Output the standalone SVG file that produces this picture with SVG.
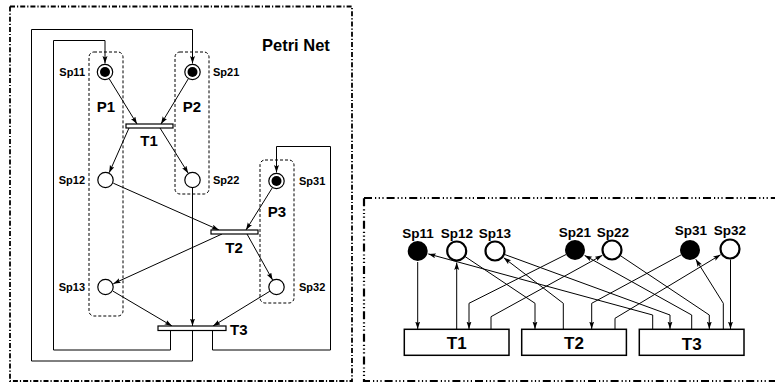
<svg xmlns="http://www.w3.org/2000/svg" width="775" height="383" viewBox="0 0 775 383">
<defs>
<marker id="ah" markerUnits="userSpaceOnUse" markerWidth="8" markerHeight="6" refX="7.5" refY="2.5" orient="auto">
<path d="M0,0 L7.5,2.5 L0,5 L1.5,2.5 z" fill="#000"/>
</marker>
<style>
.t{font-family:"Liberation Sans",Arial,sans-serif;font-weight:bold;fill:#000}
.lbl{font-size:11px}
.big{font-size:15px}
.rl{font-size:13.5px;text-anchor:middle}
.tl{font-size:17px;text-anchor:middle}
.arc{fill:none;stroke:#000;stroke-width:1;marker-end:url(#ah)}
.pl{fill:#fff;stroke:#000;stroke-width:1.2}
.grp{fill:none;stroke:#000;stroke-width:1;stroke-dasharray:3 2}
.bar{fill:#fff;stroke:#000;stroke-width:1.2}
.frame1{fill:none;stroke:#000;stroke-width:1.8;stroke-dasharray:5 2 1.2 2}
.frame2{fill:none;stroke:#000;stroke-width:2.2;stroke-dasharray:8 3 1.2 2.5 1.2 2.5 1.2 3}
.box{fill:#fff;stroke:#000;stroke-width:1.5}
.rp{fill:#fff;stroke:#000;stroke-width:2.2}
</style>
</defs>

<!-- frames -->
<rect class="frame1" x="10" y="6.5" width="342" height="374.5"/>
<rect class="frame2" x="364" y="198" width="420" height="183"/>

<text class="t big" x="262" y="51" style="font-size:16.5px">Petri Net</text>

<!-- place groups -->
<g id="P1"><rect class="grp" x="89" y="52" width="34" height="264" rx="5"/><text class="t big" x="106" y="112" text-anchor="middle">P1</text></g>
<g id="P2"><rect class="grp" x="175" y="52" width="34" height="142" rx="5"/><text class="t big" x="192" y="112" text-anchor="middle">P2</text></g>
<g id="P3"><rect class="grp" x="260" y="160" width="34" height="143" rx="5"/><text class="t big" x="277" y="217" text-anchor="middle">P3</text></g>

<!-- connectors left -->
<g id="connectors-left">
<path class="arc" d="M109.2,78.8 L137,124"/>
<path class="arc" d="M188.3,78.8 L161,124"/>
<path class="arc" d="M129,128 L109.2,172.7"/>
<path class="arc" d="M160,128 L188.2,173.2"/>
<path class="arc" d="M113.3,183.2 L219,230"/>
<path class="arc" d="M272.3,187.8 L246,230"/>
<path class="arc" d="M222,234 L113.3,283.7"/>
<path class="arc" d="M247,234 L272.6,280"/>
<path class="arc" d="M112.9,291.1 L172,326"/>
<path class="arc" d="M192.5,188 L192.5,326"/>
<path class="arc" d="M269.9,291.2 L213,326"/>
<path class="arc" d="M170.5,330.5 V350 H53.5 V40.5 H105 V63.5"/>
<path class="arc" d="M192.5,330.5 V361 H31.5 V29.5 H192.5 V63.5"/>
<path class="arc" d="M212.5,330.5 V350 H330.5 V146.5 H276.5 V172.5"/>
</g>

<!-- places left -->
<g id="Sp11"><circle class="pl" cx="105" cy="72" r="7.7"/><circle cx="105" cy="72" r="5" fill="#000"/><text class="t lbl" x="85" y="76" text-anchor="end">Sp11</text></g>
<g id="Sp21"><circle class="pl" cx="192.5" cy="72" r="7.7"/><circle cx="192.5" cy="72" r="5" fill="#000"/><text class="t lbl" x="213" y="76">Sp21</text></g>
<g id="Sp12"><circle class="pl" cx="105.5" cy="180" r="7.7"/><text class="t lbl" x="85" y="184" text-anchor="end">Sp12</text></g>
<g id="Sp22"><circle class="pl" cx="192.5" cy="180" r="7.7"/><text class="t lbl" x="213" y="184">Sp22</text></g>
<g id="Sp31"><circle class="pl" cx="276.5" cy="181" r="7.7"/><circle cx="276.5" cy="181" r="5" fill="#000"/><text class="t lbl" x="299" y="185">Sp31</text></g>
<g id="Sp13"><circle class="pl" cx="105.5" cy="287" r="7.7"/><text class="t lbl" x="85" y="291" text-anchor="end">Sp13</text></g>
<g id="Sp32"><circle class="pl" cx="276.5" cy="287" r="7.7"/><text class="t lbl" x="299" y="291">Sp32</text></g>

<!-- transitions left -->
<g id="T1"><rect class="bar" x="126" y="124" width="47" height="4"/><text class="t big" x="149" y="146" text-anchor="middle">T1</text></g>
<g id="T2"><rect class="bar" x="211" y="230" width="47" height="4"/><text class="t big" x="234" y="253" text-anchor="middle">T2</text></g>
<g id="T3"><rect class="bar" x="158" y="326" width="68" height="4.5"/><text class="t big" x="230" y="335">T3</text></g>

<!-- right panel connectors -->
<g id="connectors-right">
<path class="arc" d="M417.7,262 V329"/>
<path class="arc" d="M456.7,329 V262.5"/>
<path class="arc" d="M566.1,254.5 L469,303.3 V329"/>
<path class="arc" d="M491,329 V316.7 L602.4,255.3"/>
<path class="arc" d="M465,256.5 L535,303.3 V329"/>
<path class="arc" d="M563.3,329 V303.3 L503.7,257.7"/>
<path class="arc" d="M681.2,254.8 L591.7,303.3 V329"/>
<path class="arc" d="M615,329 V318.3 L720.6,254.7"/>
<path class="arc" d="M652.7,329 V315 L428.3,253.9"/>
<path class="arc" d="M504.4,254.4 L670,315 V329"/>
<path class="arc" d="M691.7,329 V315 L584.6,255.4"/>
<path class="arc" d="M620.3,255.6 L709.3,315 V329"/>
<path class="arc" d="M723.3,329 V303.3 L695.8,259.3"/>
<path class="arc" d="M730.5,259.5 V329"/>
</g>

<!-- right panel places -->
<g id="R-Sp11"><circle cx="417.7" cy="251" r="10" fill="#000"/><text class="t rl" x="418" y="238">Sp11</text></g>
<g id="R-Sp12"><circle class="rp" cx="456.7" cy="251" r="9.5"/><text class="t rl" x="457" y="238">Sp12</text></g>
<g id="R-Sp13"><circle class="rp" cx="495" cy="251" r="9.5"/><text class="t rl" x="495" y="238">Sp13</text></g>
<g id="R-Sp21"><circle cx="575" cy="250" r="10" fill="#000"/><text class="t rl" x="575" y="237">Sp21</text></g>
<g id="R-Sp22"><circle class="rp" cx="612" cy="250" r="9.5"/><text class="t rl" x="613" y="237">Sp22</text></g>
<g id="R-Sp31"><circle cx="690" cy="250" r="10" fill="#000"/><text class="t rl" x="691" y="235">Sp31</text></g>
<g id="R-Sp32"><circle class="rp" cx="730" cy="249" r="9.5"/><text class="t rl" x="730" y="235">Sp32</text></g>

<!-- right panel transitions -->
<g id="R-T1"><rect class="box" x="404.3" y="329.3" width="104.7" height="26"/><text class="t tl" x="456.7" y="349">T1</text></g>
<g id="R-T2"><rect class="box" x="521.7" y="329.3" width="104.7" height="26"/><text class="t tl" x="574" y="349">T2</text></g>
<g id="R-T3"><rect class="box" x="639.3" y="329.3" width="104.7" height="26"/><text class="t tl" x="691.7" y="350">T3</text></g>
</svg>
